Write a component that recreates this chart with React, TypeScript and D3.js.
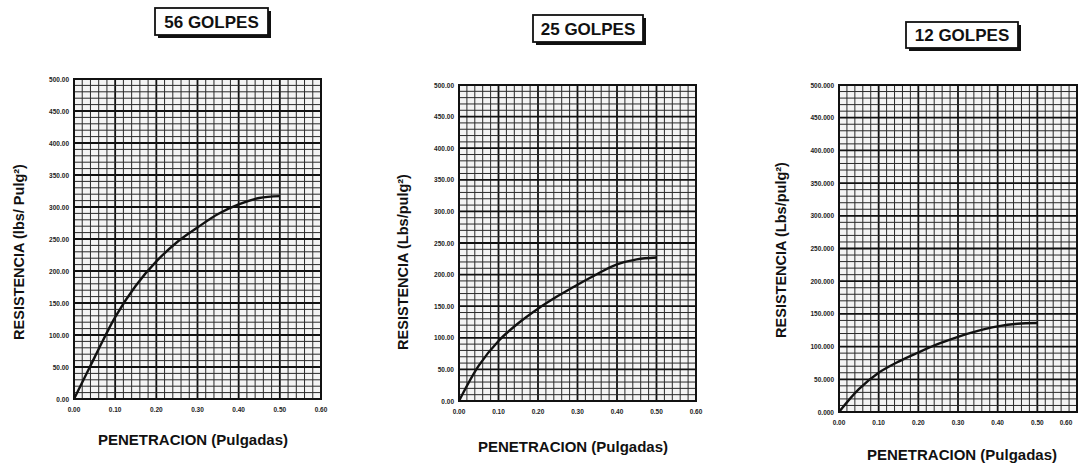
import React from 'react'
import * as d3 from 'd3'

// penetration readings (inches) shared by the three curves
const penetracion = [0, 0.05, 0.1, 0.15, 0.2, 0.25, 0.3, 0.35, 0.4, 0.45, 0.5]
// resistance (lbs/pulg2)
const resist56 = [0, 65, 128, 177, 215, 245, 268, 289, 304, 314, 317]
const resist25 = [0, 56, 95, 123, 146, 166, 184, 201, 216, 224, 227]
const resist12 = [0, 35, 60, 77, 91, 104, 115, 124, 131, 135, 136]

const xTicks = [0, 0.1, 0.2, 0.3, 0.4, 0.5, 0.6]
const yTicks = [0, 50, 100, 150, 200, 250, 300, 350, 400, 450, 500]
const titles = ['56 GOLPES', '25 GOLPES', '12 GOLPES']
const yTitles = ['RESISTENCIA (lbs/ Pulg²)', 'RESISTENCIA (Lbs/pulg²)', 'RESISTENCIA (Lbs/pulg²)']
const xTitle = 'PENETRACION (Pulgadas)'

const font = 'Liberation Sans, Arial, sans-serif'

const panels = [
    { values: resist56, title: titles[0], yTitle: yTitles[0], fmt: '.2f',
      box: { l: 74, r: 321, t: 79, b: 399 }, head: { x: 155, y: 8, w: 113, h: 27 },
      xt: { x: 193, y: 445 }, yt: { x: 19, y: 252 } },
    { values: resist25, title: titles[1], yTitle: yTitles[1], fmt: '.2f',
      box: { l: 459, r: 696, t: 85, b: 401 }, head: { x: 533, y: 15, w: 110, h: 27 },
      xt: { x: 573, y: 452 }, yt: { x: 403, y: 262 } },
    { values: resist12, title: titles[2], yTitle: yTitles[2], fmt: '.3f',
      box: { l: 839, r: 1077, t: 85, b: 412 }, head: { x: 906, y: 22, w: 112, h: 26 },
      xt: { x: 962, y: 460 }, yt: { x: 781, y: 250 } },
]

function Panel({ p }: { p: any }) {
    const x = d3.scaleLinear().domain([0, 0.6]).range([p.box.l, p.box.r])
    const y = d3.scaleLinear().domain([0, 500]).range([p.box.b, p.box.t])

    const line = d3.line<number>()
        .x((d, i) => x(penetracion[i]))
        .y(d => y(d))
        .curve(d3.curveCatmullRom)

    const minorX = d3.range(0, 0.6001, 0.02)
    const minorY = d3.range(0, 500.1, 10)
    const fmt = d3.format(p.fmt)

    return (
        <g>
            {/* heading box with drop shadow */}
            <rect x={p.head.x + 3} y={p.head.y + 3} width={p.head.w} height={p.head.h} fill='#111' />
            <rect x={p.head.x} y={p.head.y} width={p.head.w} height={p.head.h} fill='#fff' stroke='#111' strokeWidth={1.8} />
            <text x={p.head.x + p.head.w / 2} y={p.head.y + p.head.h / 2 + 6} textAnchor='middle'
                fontFamily={font} fontWeight='bold' fontSize={17} fill='#111'>{p.title}</text>

            <rect x={p.box.l} y={p.box.t} width={p.box.r - p.box.l} height={p.box.b - p.box.t} fill='#f4f4f4' />
            {minorX.map((v, i) => (
                <line key={'mx' + i} x1={x(v)} x2={x(v)} y1={p.box.t} y2={p.box.b}
                    stroke={i % 5 === 0 ? '#111' : '#2a2a2a'} strokeWidth={i % 5 === 0 ? 1.8 : 1} />
            ))}
            {minorY.map((v, i) => (
                <line key={'my' + i} x1={p.box.l} x2={p.box.r} y1={y(v)} y2={y(v)}
                    stroke={i % 5 === 0 ? '#111' : '#2a2a2a'} strokeWidth={i % 5 === 0 ? 1.8 : 1} />
            ))}
            <rect x={p.box.l} y={p.box.t} width={p.box.r - p.box.l} height={p.box.b - p.box.t}
                fill='none' stroke='#111' strokeWidth={2} />

            <path d={line(p.values) || ''} fill='none' stroke='#111' strokeWidth={2.4} />

            {yTicks.map(v => (
                <text key={'yt' + v} x={p.box.l - 5} y={y(v) + 2.5} textAnchor='end'
                    fontFamily={font} fontWeight='bold' fontSize={6.5} fill='#222'>{fmt(v)}</text>
            ))}
            {xTicks.map(v => (
                <text key={'xt' + v} x={Math.min(x(v), 1066)} y={p.box.b + 13} textAnchor='middle'
                    fontFamily={font} fontWeight='bold' fontSize={6.5} fill='#222'>{v.toFixed(2)}</text>
            ))}

            <text x={p.xt.x} y={p.xt.y} textAnchor='middle' fontFamily={font} fontWeight='bold'
                fontSize={15} fill='#111'>{xTitle}</text>
            <text transform={'translate(' + p.yt.x + ',' + p.yt.y + ') rotate(-90)'} textAnchor='middle'
                dy='0.35em' fontFamily={font} fontWeight='bold' fontSize={14.5} fill='#111'>{p.yTitle}</text>
        </g>
    )
}

export default function App() {
    return (
        <svg width={1080} height={464} style={{ position: 'absolute', left: 0, top: 0, background: '#fff' }}>
            {panels.map((p, i) => <Panel key={i} p={p} />)}
        </svg>
    )
}
